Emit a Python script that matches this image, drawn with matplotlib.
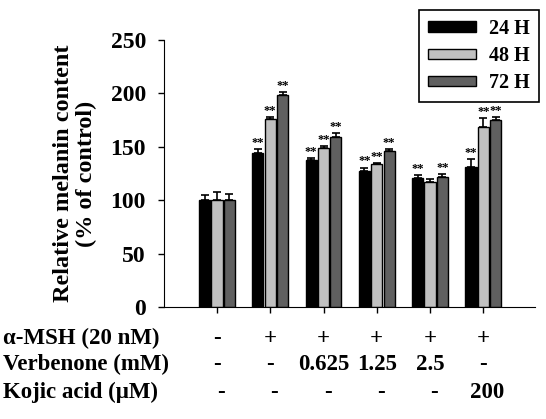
import numpy as np
import matplotlib
matplotlib.use("Agg")
import matplotlib.pyplot as plt
from matplotlib.patches import Patch

plt.rcParams['font.family'] = ['Liberation Serif', 'DejaVu Serif']
plt.rcParams['font.weight'] = 'bold'

series = ['24 H', '48 H', '72 H']
colors = ['#000000', '#c0c0c0', '#606060']
vals_24 = [100, 144.5, 137.6, 127.6, 120.8, 131.4]
vals_48 = [100, 176, 148.6, 133.9, 117, 168.9]
vals_72 = [100, 198.5, 159, 146, 121.4, 175]
err_24 = [4.5, 3, 2, 3, 2.5, 7.2]
err_48 = [7.7, 2, 1.8, 1, 2.5, 7.7]
err_72 = [6, 2.5, 3.6, 2, 2.8, 2.6]
stars_24 = ['', '**', '**', '**', '**', '**']
stars_48 = ['', '**', '**', '**', '', '**']
stars_72 = ['', '**', '**', '**', '**', '**']

row_labels = ['α-MSH (20 nM)', 'Verbenone (mM)', 'Kojic acid (μM)']
msh = ['-', '+', '+', '+', '+', '+']
verbenone = ['-', '-', '0.625', '1.25', '2.5', '-']
kojic = ['-', '-', '-', '-', '-', '200']

W, H = 546, 419
fig = plt.figure(figsize=(W / 100, H / 100), dpi=100)
ax = fig.add_axes([164 / W, 112 / H, 371 / W, 267 / H])

x = np.arange(6)
w = 0.21
step = 0.232
vals = [vals_24, vals_48, vals_72]
errs = [err_24, err_48, err_72]
stars = [stars_24, stars_48, stars_72]
for i in range(3):
    xi = x + (i - 1) * step
    ax.bar(xi, vals[i], w, color=colors[i], edgecolor='black', linewidth=1.0)
    ax.errorbar(xi, vals[i], yerr=[np.zeros(6), errs[i]], fmt='none',
                ecolor='black', elinewidth=1.2, capsize=3, capthick=1.2)
    for j in range(6):
        if stars[i][j]:
            ax.text(xi[j], vals[i][j] + errs[i][j] + 0.3, stars[i][j],
                    ha='center', va='bottom', fontsize=9)

ax.set_xlim(-0.994, 5.97)
ax.set_ylim(0, 250)
ax.set_yticks([0, 50, 100, 150, 200, 250])
ax.set_xticks(x)
ax.set_xticklabels([])
ax.tick_params(axis='y', labelsize=17, direction='out', length=4, width=1, pad=9)
ax.tick_params(axis='x', direction='out', length=4, width=1)
for lab in ax.get_yticklabels():
    lab.set_fontweight('bold')
ax.spines['top'].set_visible(False)
ax.spines['right'].set_visible(False)
ax.set_ylabel('Relative melanin content\n(% of control)', fontsize=17.5,
              fontweight='bold', linespacing=1.1)
ax.yaxis.set_label_coords(-(164 - 97) / 371, 0.5)

handles = [Patch(facecolor=c, edgecolor='black') for c in colors]
leg = fig.legend(handles, series, loc='upper left',
                 bbox_to_anchor=(419 / W, 1 - 10 / H), borderaxespad=0,
                 fontsize=14.5, frameon=True, fancybox=False, edgecolor='black',
                 framealpha=1, handlelength=2.4, handleheight=0.45,
                 borderpad=0.45, labelspacing=0.35, handletextpad=0.65)
leg.get_frame().set_linewidth(1.2)

rows = [msh, verbenone, kojic]
row_y = [338, 364, 392]
row_dx = [0, 0, 4]
for r in range(3):
    fy = 1 - row_y[r] / H
    fig.text(3 / W, fy, row_labels[r], fontsize=16.5, fontweight='bold',
             ha='left', va='center')
    for j in range(6):
        xd = (ax.transData.transform((x[j], 0))[0] + row_dx[r]) / W
        fig.text(xd, fy, rows[r][j], fontsize=16.5, fontweight='bold',
                 ha='center', va='center')

fig.savefig('out.png', dpi=100)
